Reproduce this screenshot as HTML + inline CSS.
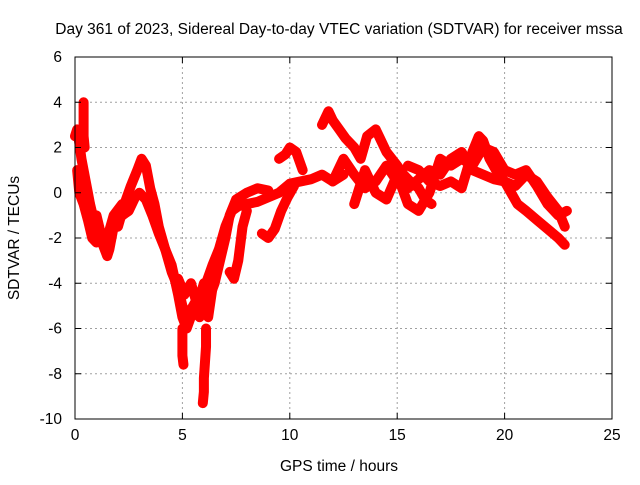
<!DOCTYPE html>
<html><head><meta charset="utf-8"><style>
body{margin:0;background:#fff}
svg text{font-family:"Liberation Sans",Arial,sans-serif;font-size:15.5px;fill:#000}
</style></head><body>
<svg id="chart" width="640" height="480">
<text x="339" y="34" text-anchor="middle">Day 361 of 2023, Sidereal Day-to-day VTEC variation (SDTVAR) for receiver mssa</text>
<text x="339" y="471" text-anchor="middle">GPS time / hours</text>
<text transform="translate(19,238) rotate(-90)" text-anchor="middle">SDTVAR / TECUs</text>
<g id="grid"></g><g id="marks"></g><g id="axes"></g>
</svg>
<script>
const xTicks=[0,5,10,15,20,25];
const yTicks=[6,4,2,0,-2,-4,-6,-8,-10];
const traceA_t=[0,0.1,0.2,0.3,0.5,0.7,0.9,1.1,1.3,1.5,1.6,1.8,2.0,2.2,2.5,2.8,3.0,3.3,3.6,3.9,4.2,4.5,4.8,5.0,5.2,5.5,5.8,6.1,6.4,6.7,7.0,7.3,7.6,8,8.5,9,9.5,10,10.5,11,11.5,12,12.5];
const traceA_v=[2.5,2.8,2.2,1.5,0.5,-0.5,-1.3,-1.8,-2.3,-2.8,-2.5,-1.5,-1.2,-1.0,-0.8,-0.2,0,-0.3,-1.0,-1.8,-2.5,-3.5,-4.2,-5,-5.5,-5.0,-4.5,-4.0,-3.2,-2.5,-1.5,-0.8,-0.6,-0.5,-0.4,-0.2,0,0.4,0.5,0.6,0.8,0.5,0.8];
const traceB_t=[2.0,2.3,2.6,2.9,3.1,3.3,3.5,3.7,3.9,4.2,4.5,4.8,5.0,5.2,5.5,5.8,6.0,6.3,6.5,6.8,7.0,7.2,7.5,8,8.5,9];
const traceB_v=[-1.5,-0.5,0.3,1.0,1.5,1.2,0.2,-0.5,-1.5,-2.5,-3.2,-4.5,-5.5,-6.0,-5.2,-5.5,-5.0,-4.5,-4.0,-2.8,-2.0,-1.0,-0.3,0,0.2,0.1];
const traceC_t=[0.1,0.2,0.4,0.6,0.8,1.0,1.3];
const traceC_v=[1.0,0.0,-0.5,-1.2,-2.0,-2.2,-2.0];
const traceK_t=[0.5,0.8,1.0,1.2,1.5,1.8,2.2];
const traceK_v=[-0.8,-1.5,-1.0,-1.8,-2.0,-1.0,-0.5];
const traceL_t=[4.8,5.1,5.4,5.7,6.0,6.2,6.4];
const traceL_v=[-3.8,-4.5,-4.0,-5.0,-4.0,-5.5,-4.2];
const spike1_t=[0.4,0.4,0.4,0.4,0.45];
const spike1_v=[4.0,3.5,3.0,2.5,2.0];
const spike2_t=[5.0,5.0,5.0,5.05];
const spike2_v=[-6.0,-6.6,-7.2,-7.6];
const spike3_t=[6.1,6.1,6.05,6.0,6.0,5.95];
const spike3_v=[-6.0,-6.8,-7.5,-8.2,-8.8,-9.3];
const traceD_t=[7.2,7.4,7.6,7.8,8.0];
const traceD_v=[-3.5,-3.8,-3.0,-1.5,-0.8];
const traceE_t=[8.7,9.0,9.3,9.6,9.9,10.2];
const traceE_v=[-1.8,-2.0,-1.6,-0.8,-0.2,0.3];
const traceF_t=[9.5,9.8,10.0,10.3,10.6];
const traceF_v=[1.5,1.7,2.0,1.8,1.0];
const traceG_t=[11.5,11.8,12.0,12.3,12.6,13.0,13.3,13.6,14.0,14.2,14.5,15.0,15.3,15.6,16.0,16.3,16.6];
const traceG_v=[3.0,3.6,3.2,2.8,2.4,2.0,1.5,2.5,2.8,2.4,1.8,1.2,0.8,0.5,0.2,-0.3,-0.5];
const traceH_t=[12,12.5,13,13.5,14,14.5,15,15.5,16,16.5,17,17.5,18,18.5,19,19.5,20,20.5,21,21.5,22,22.5,22.8];
const traceH_v=[0.5,1.5,0.8,0.2,0.5,1.2,0.5,0.2,0.6,1.0,0.8,1.5,1.8,1.0,0.8,0.6,0.5,0.3,0.8,0.5,-0.2,-0.8,-1.5];
const traceI_t=[15.5,16,16.5,17,17.5,18,18.5,18.8,19,19.3,19.6,20,20.3,20.6,21,21.5,22,22.5,22.8];
const traceI_v=[1.2,1.0,0.5,0.3,0.5,0.2,1.8,2.5,2.3,1.5,1.0,0.5,0,-0.5,-0.8,-1.2,-1.6,-2.0,-2.3];
const traceJ_t=[13,13.5,14,14.5,15,15.5,16,16.5,17,17.5,18,18.5,19,19.5,20,20.5,21,21.5,22,22.5,22.9];
const traceJ_v=[-0.5,1,0.0,-0.3,0.8,-0.5,-0.8,0.0,1.5,1.2,1.5,1.2,2.0,1.8,1.0,0.8,1.0,0.3,-0.5,-1.0,-0.8];
const series=[[traceA_t,traceA_v],[traceB_t,traceB_v],[traceC_t,traceC_v],[traceK_t,traceK_v],[traceL_t,traceL_v],[spike1_t,spike1_v],[spike2_t,spike2_v],[spike3_t,spike3_v],[traceD_t,traceD_v],[traceE_t,traceE_v],[traceF_t,traceF_v],[traceG_t,traceG_v],[traceH_t,traceH_v],[traceI_t,traceI_v],[traceJ_t,traceJ_v]];
const X0=75,X1=612,Y0=57,Y1=419;
const xs=v=>X0+(v-0)/25*(X1-X0);
const ys=v=>Y0+(6-v)/16*(Y1-Y0);
const NS="http://www.w3.org/2000/svg";
function mk(tag,attrs,parent){const e=document.createElementNS(NS,tag);for(const k in attrs)e.setAttribute(k,attrs[k]);parent.appendChild(e);return e;}
const grid=document.getElementById('grid'),marks=document.getElementById('marks'),axes=document.getElementById('axes');
xTicks.forEach(t=>{const x=xs(t);
 if(t>0&&t<25){const g=mk('line',{x1:x,x2:x,y1:Y0,y2:Y1,stroke:'#a0a0a0','stroke-dasharray':'2,3'},grid);
 
 }
 const tk=mk('path',{d:`M${x},${Y1}v-6M${x},${Y0}v6`,stroke:'#000'},axes);
 
 
 const l=mk('text',{x:x,y:Y1+21,'text-anchor':'middle'},axes);l.textContent=t;
 
 
});
yTicks.forEach(t=>{const y=ys(t);
 if(t>-10&&t<6){const g=mk('line',{x1:X0,x2:X1,y1:y,y2:y,stroke:'#a0a0a0','stroke-dasharray':'2,3'},grid);
 
 }
 const tk=mk('path',{d:`M${X0},${y}h6M${X1},${y}h-6`,stroke:'#000'},axes);
 
 
 const l=mk('text',{x:X0-13,y:y+5,'text-anchor':'end'},axes);l.textContent=t;
 
 
});
const fr=mk('rect',{x:X0,y:Y0,width:X1-X0,height:Y1-Y0,fill:'none',stroke:'#000'},axes);


series.forEach(([t,v],i)=>{
 const pts=t.map((tt,j)=>xs(tt)+','+ys(v[j])).join(' ');
 const pl=mk('polyline',{points:pts,fill:'none',stroke:'#ff0000','stroke-width':10,'stroke-linejoin':'round','stroke-linecap':'round'},marks);
 
 
 t.forEach((tt,j)=>{const x=xs(tt),y=ys(v[j]);
  const p=mk('path',{d:`M${x-4},${y}h8M${x},${y-4}v8`,stroke:'#ff0000','stroke-width':1.2},marks);
  
  
 });
});
</script>
</body></html>
